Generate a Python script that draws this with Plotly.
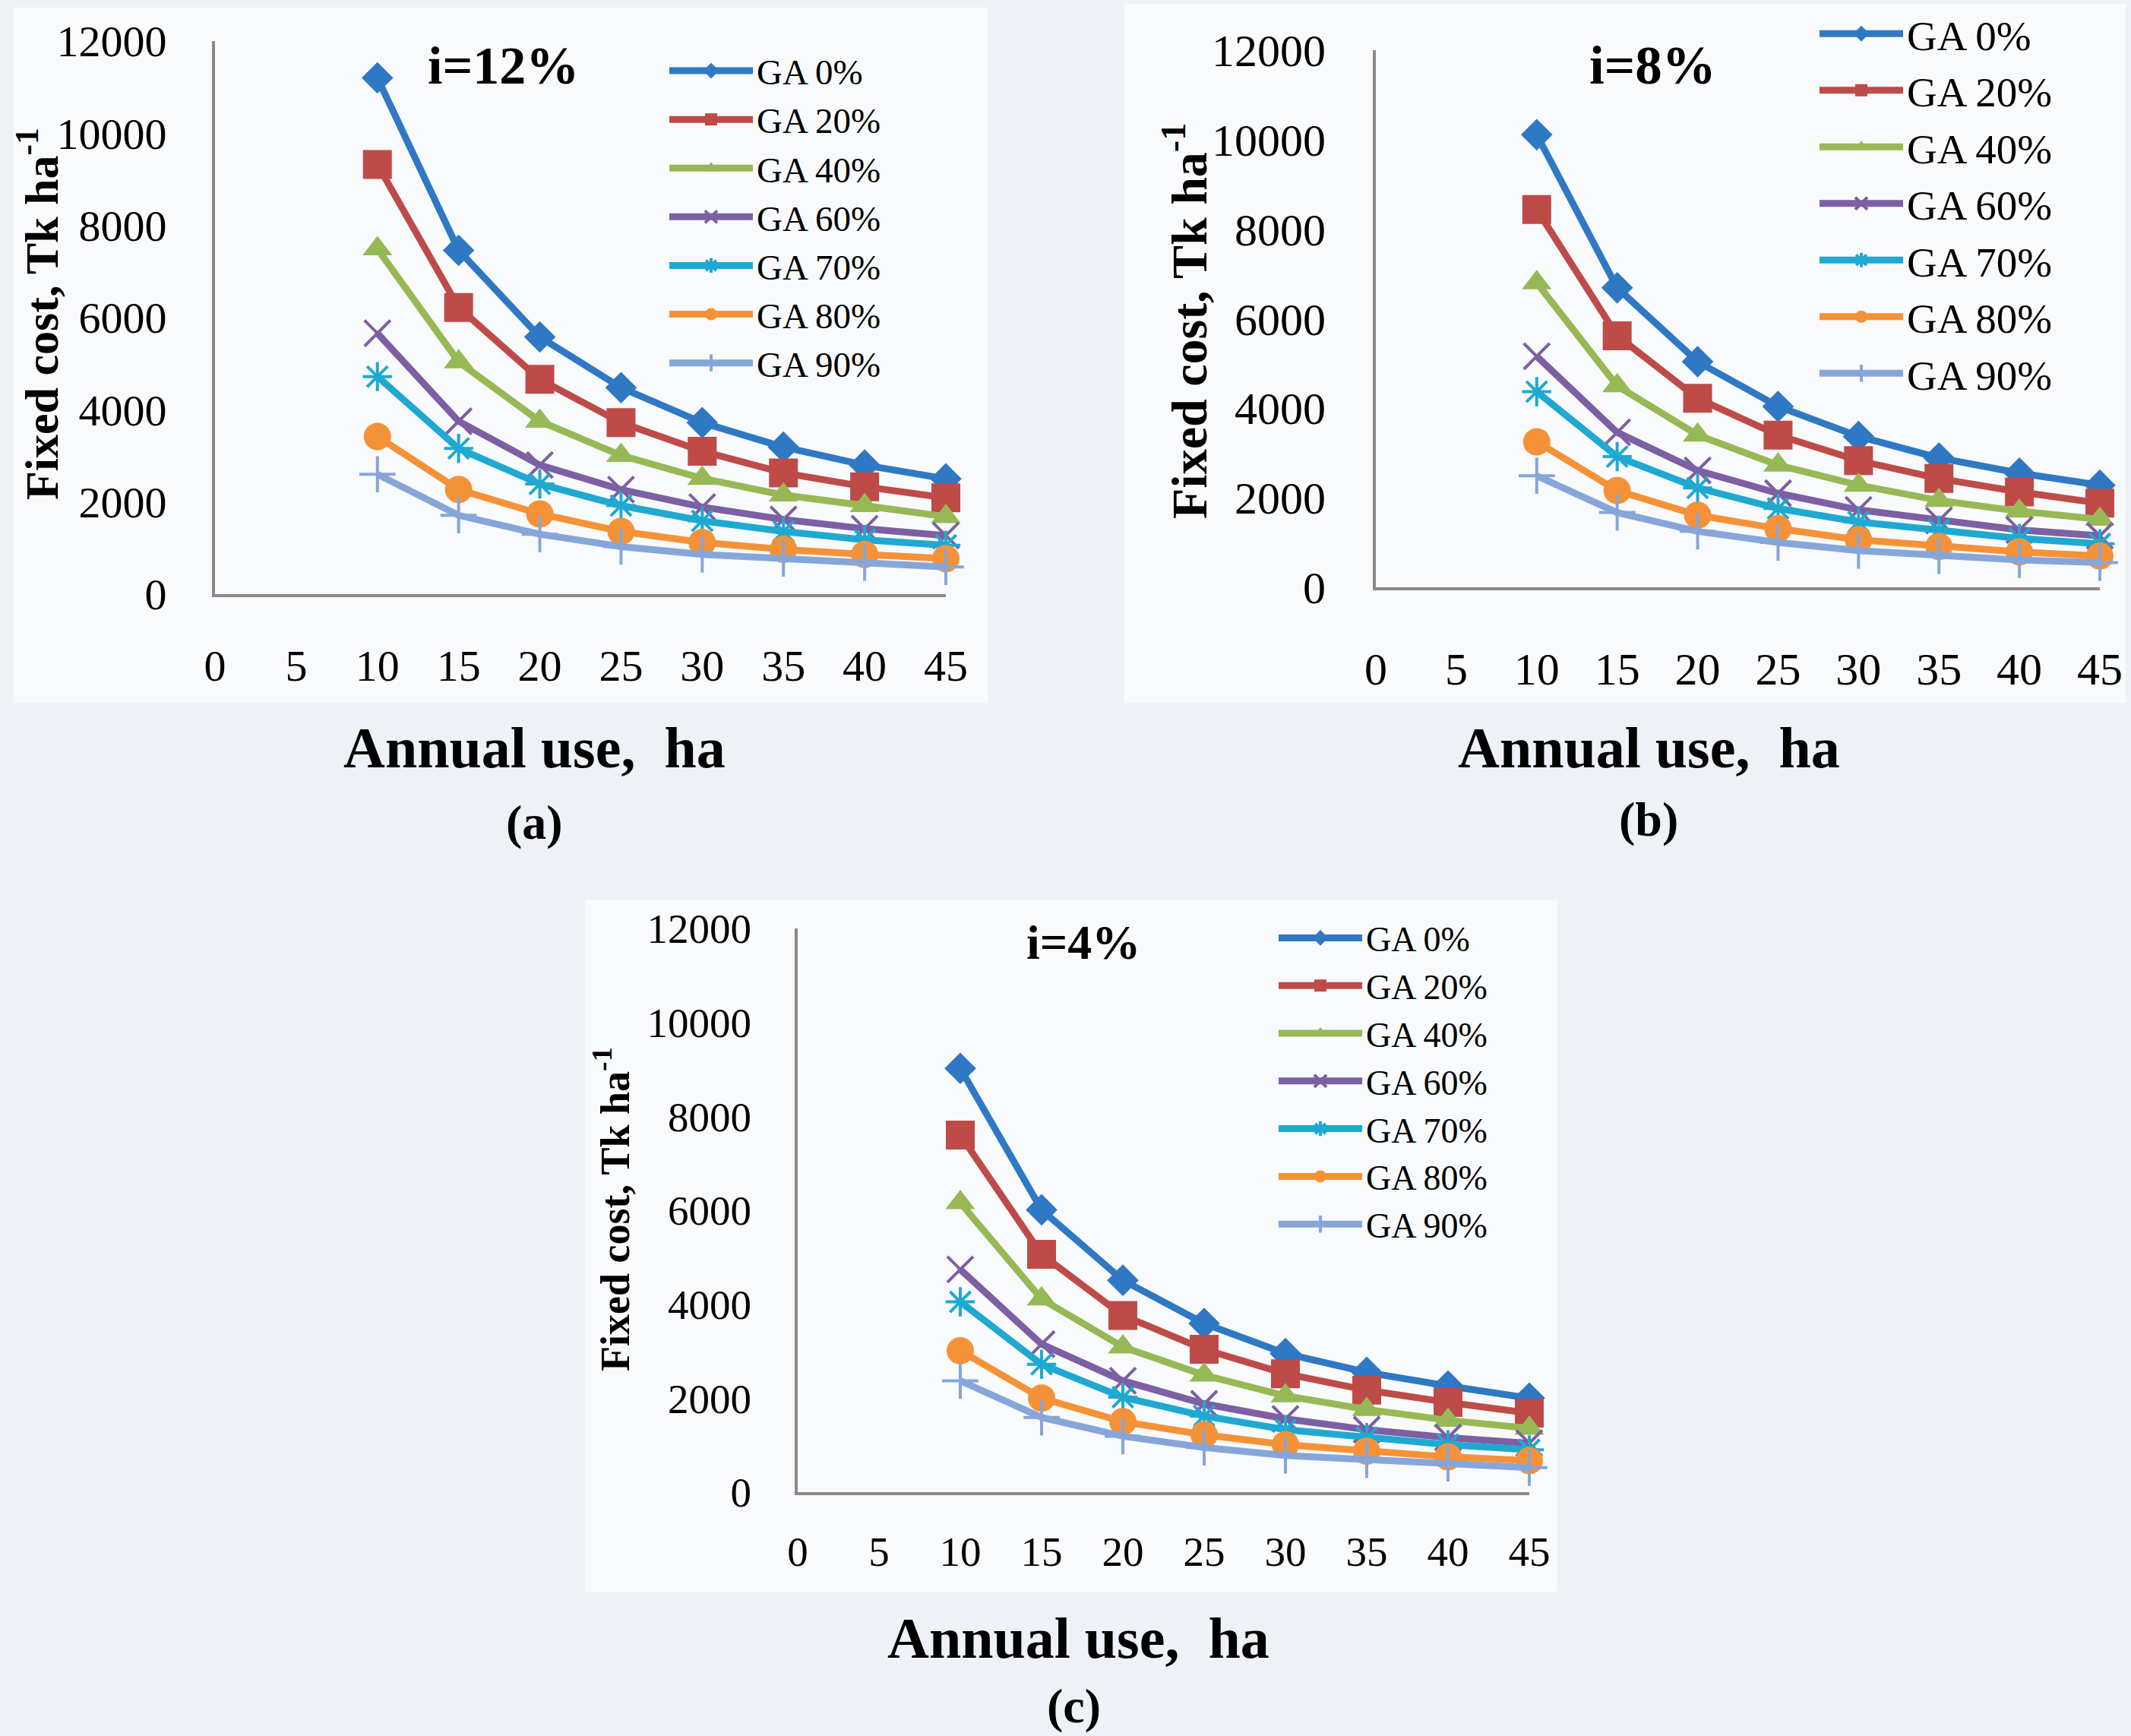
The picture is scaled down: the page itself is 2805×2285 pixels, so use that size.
import plotly.graph_objects as go

# ---------------- data ----------------
annual_use = [10, 15, 20, 25, 30, 35, 40, 45]
series_names = ["GA 0%", "GA 20%", "GA 40%", "GA 60%", "GA 70%", "GA 80%", "GA 90%"]
x_tick_vals = [0, 5, 10, 15, 20, 25, 30, 35, 40, 45]
y_tick_vals = [0, 2000, 4000, 6000, 8000, 10000, 12000]
panel_titles = ["i=12%", "i=8%", "i=4%"]
panel_tags = ["(a)", "(b)", "(c)"]
x_title = "Annual use,&nbsp; ha"
y_title = "Fixed cost, Tk ha<sup>-1</sup>"

# i = 12 %
i12_ga0 = [11200, 7460, 5580, 4480, 3720, 3190, 2800, 2500]
i12_ga20 = [9320, 6220, 4660, 3720, 3100, 2630, 2330, 2090]
i12_ga40 = [7490, 5040, 3750, 3010, 2510, 2150, 1920, 1680]
i12_ga60 = [5660, 3750, 2800, 2270, 1890, 1620, 1420, 1270]
i12_ga70 = [4720, 3160, 2390, 1920, 1590, 1360, 1180, 1060]
i12_ga80 = [3420, 2270, 1740, 1360, 1120, 970, 860, 770]
i12_ga90 = [2600, 1710, 1300, 1030, 860, 770, 680, 590]

# i = 8 %
i8_ga0 = [10110, 6690, 5040, 4040, 3370, 2890, 2550, 2280]
i8_ga20 = [8440, 5620, 4220, 3400, 2830, 2430, 2130, 1880]
i8_ga40 = [6800, 4500, 3400, 2730, 2280, 1940, 1700, 1520]
i8_ga60 = [5160, 3460, 2610, 2100, 1730, 1490, 1280, 1150]
i8_ga70 = [4370, 2920, 2220, 1760, 1460, 1280, 1090, 970]
i8_ga80 = [3250, 2160, 1610, 1310, 1060, 910, 790, 700]
i8_ga90 = [2490, 1670, 1250, 1000, 820, 700, 610, 550]

# i = 4 %
i4_ga0 = [9020, 6010, 4510, 3590, 2950, 2550, 2260, 2000]
i4_ga20 = [7600, 5060, 3760, 3040, 2520, 2170, 1910, 1680]
i4_ga40 = [6160, 4110, 3090, 2490, 2050, 1760, 1530, 1360]
i4_ga60 = [4740, 3150, 2370, 1880, 1560, 1330, 1160, 1040]
i4_ga70 = [4050, 2720, 2020, 1620, 1330, 1160, 1010, 900]
i4_ga80 = [3010, 2000, 1500, 1220, 1010, 870, 750, 670]
i4_ga90 = [2370, 1590, 1190, 950, 780, 690, 610, 520]

panels = [
    [i12_ga0, i12_ga20, i12_ga40, i12_ga60, i12_ga70, i12_ga80, i12_ga90],
    [i8_ga0, i8_ga20, i8_ga40, i8_ga60, i8_ga70, i8_ga80, i8_ga90],
    [i4_ga0, i4_ga20, i4_ga40, i4_ga60, i4_ga70, i4_ga80, i4_ga90],
]

# ---------------- styles ----------------
W, H = 2805, 2285
FONT = "Liberation Serif, Times New Roman, serif"
colors = ["#2F78C4", "#BE4B48", "#97B955", "#7D5FA3", "#1FA9D1", "#F59238", "#86A6D9"]
symbols = ["diamond", "square", "triangle-up", "x-thin-open", "asterisk-open", "circle", "cross-thin-open"]
msizes = [32, 38, 34, 34, 32, 36, 34]
line_w = 9

# plot-area geometry in pixels (left, right, bottom(zero), top(12000))
geo = [
    (283, 1245, 782, 54),
    (1811, 2764, 773, 66),
    (1050, 2013, 1964, 1222),
]
tick_font = [58, 60, 55]
xlab_shift = [40, 52, 27]
ylab_shift = [48, 50, 46]
legend_font = [47, 55, 46]
legend_pos = [(876, 56), (2390, 2), (1678, 1198)]
ytitle_pos = [(50, 413, 62), (1560, 423, 66), (805, 1592, 54)]
xtitle_pos = [(703, 984, 76), (2170, 984, 76), (1419, 2156, 76)]
tag_pos = [(703, 1082, 64), (2170, 1079, 64), (1413, 2245, 64)]
ptitle_pos = [(662, 86, 70), (2175, 86, 71), (1426, 1241, 64)]
chart_bg = [(18, 1300, 10, 925), (1480, 2798, 5, 925), (770, 2050, 1185, 2095)]


def px(x):
    return x / W


def py(y):
    return 1 - y / H


fig = go.Figure()
layout = dict(
    width=W, height=H,
    margin=dict(l=0, r=0, t=0, b=0, pad=0, autoexpand=False),
    paper_bgcolor="#EEF2F7",
    plot_bgcolor="#FFFFFF",
    showlegend=True,
    font=dict(family=FONT, color="#000000"),
    annotations=[],
    shapes=[],
)

for p in range(3):
    suffix = "" if p == 0 else str(p + 1)
    xa, ya = "x" + suffix, "y" + suffix
    leg = "legend" + suffix
    for s, vals in enumerate(panels[p]):
        sym = symbols[s]
        thin = sym.endswith("-open")
        fig.add_trace(go.Scatter(
            x=annual_use, y=vals, name=series_names[s],
            xaxis=xa, yaxis=ya, legend=leg,
            mode="lines+markers", cliponaxis=False,
            line=dict(color=colors[s], width=line_w),
            marker=dict(symbol=sym, size=msizes[s], color=colors[s],
                        line=dict(color=colors[s], width=4 if thin else 0)),
        ))
    l, r, b, t = geo[p]
    layout["xaxis" + suffix] = dict(
        domain=[px(l), px(r)], anchor=ya, range=[0, 45],
        tickvals=x_tick_vals, tickformat="d", showgrid=False, zeroline=False,
        showline=True, linecolor="#8A8A8A", linewidth=4, ticks="",
        ticklabelstandoff=xlab_shift[p], automargin=False,
        tickfont=dict(family=FONT, size=tick_font[p], color="#000"),
    )
    layout["yaxis" + suffix] = dict(
        domain=[py(b), py(t)], anchor=xa, range=[0, 12000],
        tickvals=y_tick_vals, tickformat="d", showgrid=False, zeroline=False,
        showline=True, linecolor="#8A8A8A", linewidth=4, ticks="",
        ticklabelstandoff=ylab_shift[p], automargin=False,
        tickfont=dict(family=FONT, size=tick_font[p], color="#000"),
    )
    lx, ly = legend_pos[p]
    layout[leg] = dict(
        x=px(lx), y=py(ly), xanchor="left", yanchor="top",
        bgcolor="rgba(0,0,0,0)", borderwidth=0,
        font=dict(family=FONT, size=legend_font[p], color="#000"),
        itemwidth=110, tracegroupgap=0,
    )
    cx0, cx1, cy0, cy1 = chart_bg[p]
    layout["shapes"].append(dict(
        type="rect", xref="paper", yref="paper", layer="below",
        x0=px(cx0), x1=px(cx1), y0=py(cy1), y1=py(cy0),
        fillcolor="#F8FAFC", line=dict(width=0),
    ))
    tx, ty, ts = ptitle_pos[p]
    layout["annotations"].append(dict(
        text="<b>" + panel_titles[p] + "</b>", x=px(tx), y=py(ty),
        xref="paper", yref="paper", showarrow=False,
        xanchor="center", yanchor="middle",
        font=dict(family=FONT, size=ts, color="#000"),
    ))
    yx, yy, ys = ytitle_pos[p]
    layout["annotations"].append(dict(
        text="<b>" + y_title + "</b>", x=px(yx), y=py(yy), textangle=-90,
        xref="paper", yref="paper", showarrow=False,
        xanchor="center", yanchor="middle",
        font=dict(family=FONT, size=ys, color="#000"),
    ))
    xx, xy, xs = xtitle_pos[p]
    layout["annotations"].append(dict(
        text="<b>" + x_title + "</b>", x=px(xx), y=py(xy),
        xref="paper", yref="paper", showarrow=False,
        xanchor="center", yanchor="middle",
        font=dict(family=FONT, size=xs, color="#000"),
    ))
    gx, gy, gs = tag_pos[p]
    layout["annotations"].append(dict(
        text="<b>" + panel_tags[p] + "</b>", x=px(gx), y=py(gy),
        xref="paper", yref="paper", showarrow=False,
        xanchor="center", yanchor="middle",
        font=dict(family=FONT, size=gs, color="#000"),
    ))

fig.update_layout(**layout)
fig.write_html("out.html")
